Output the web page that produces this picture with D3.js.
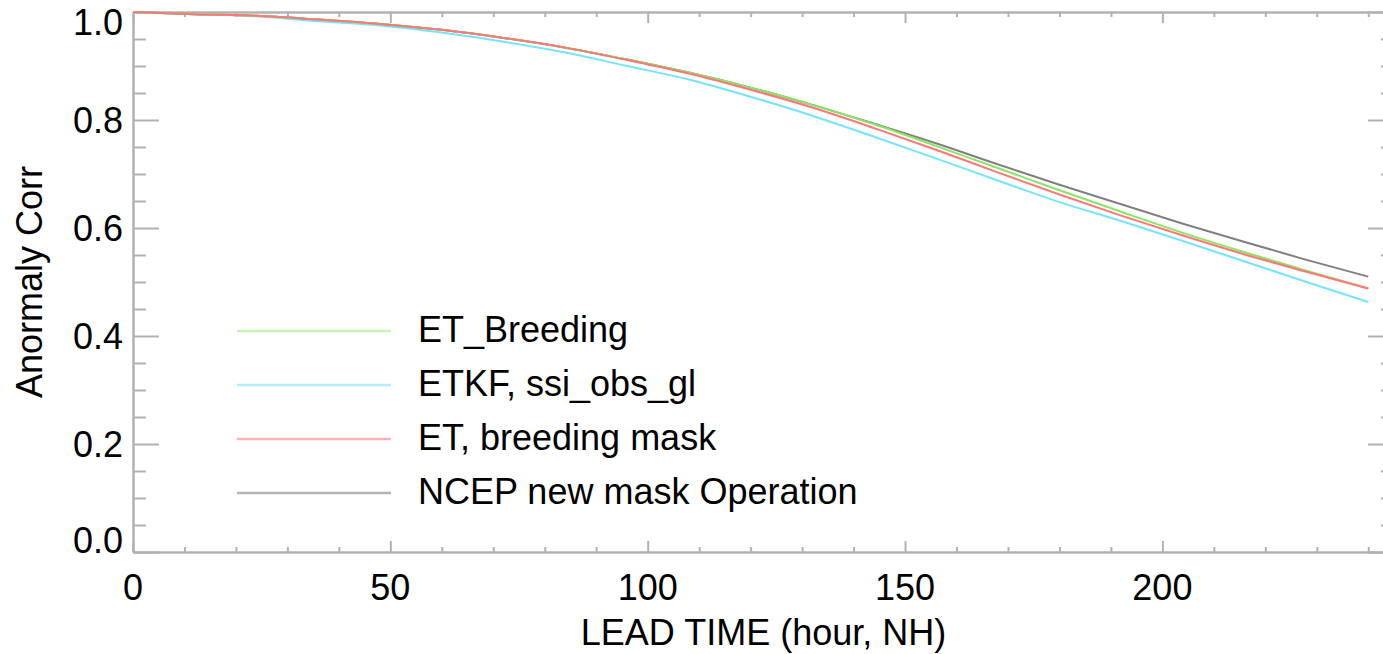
<!DOCTYPE html>
<html>
<head>
<meta charset="utf-8">
<script src="https://cdn.jsdelivr.net/npm/d3@7"></script>
<style>
  body { margin: 0; background: #fff; }
  svg { display: block; font-family: "Liberation Sans", Arial, sans-serif; }
</style>
</head>
<body>
<script>
// lead times (hours)
var leadTime = [0, 12, 24, 36, 48, 60, 72, 84, 96, 108, 120, 132, 144, 156, 168, 180, 192, 204, 216, 228, 240];

// anomaly correlation, one array per experiment
var etBreeding   = [1.0, 0.996, 0.993, 0.986, 0.978, 0.967, 0.952, 0.934, 0.912, 0.888, 0.860, 0.828, 0.792, 0.752, 0.711, 0.670, 0.630, 0.591, 0.555, 0.521, 0.488];
var etkf         = [1.0, 0.996, 0.992, 0.983, 0.975, 0.962, 0.945, 0.925, 0.900, 0.875, 0.843, 0.808, 0.769, 0.729, 0.688, 0.648, 0.613, 0.576, 0.538, 0.500, 0.463];
var etMask       = [1.0, 0.996, 0.993, 0.986, 0.978, 0.967, 0.952, 0.934, 0.911, 0.886, 0.856, 0.823, 0.785, 0.745, 0.703, 0.662, 0.623, 0.586, 0.551, 0.519, 0.488];
var ncepNewMask  = [1.0, 0.996, 0.993, 0.986, 0.978, 0.967, 0.952, 0.934, 0.912, 0.888, 0.860, 0.828, 0.793, 0.757, 0.718, 0.680, 0.644, 0.608, 0.574, 0.541, 0.510];

var seriesNames = ["ET_Breeding", "ETKF, ssi_obs_gl", "ET, breeding mask", "NCEP new mask Operation"];

var xTicks = [0, 50, 100, 150, 200];
var xMinorTicks = [10, 20, 30, 40, 60, 70, 80, 90, 110, 120, 130, 140, 160, 170, 180, 190, 210, 220, 230, 240];
var yTicks = [0.0, 0.2, 0.4, 0.6, 0.8, 1.0];
var yMinorTicks = [0.05, 0.1, 0.15, 0.25, 0.3, 0.35, 0.45, 0.5, 0.55, 0.65, 0.7, 0.75, 0.85, 0.9, 0.95];

var w = 1383, h = 654;
var plotLeft = 133, plotRight = 1394, plotTop = 12, plotBottom = 552;
var axisColor = "#b2b2b2";

var svg = d3.select("body").append("svg")
    .attr("width", w)
    .attr("height", h);

var x = d3.scaleLinear().domain([0, 245]).range([plotLeft, plotRight]);
var y = d3.scaleLinear().domain([0, 1]).range([plotBottom, plotTop]);

// axes: ticks all point inward, labels only on left and bottom
function styleAxis(g) {
  g.selectAll("path, line").attr("stroke", axisColor).attr("stroke-width", 2);
  g.selectAll("text").remove();
}

svg.append("g").attr("transform", "translate(0," + plotBottom + ")")
  .call(d3.axisBottom(x).tickValues(xTicks).tickSize(-11).tickSizeOuter(0)).call(styleAxis);
svg.append("g").attr("transform", "translate(0," + plotBottom + ")")
  .call(d3.axisBottom(x).tickValues(xMinorTicks).tickSize(-5).tickSizeOuter(0)).call(styleAxis);
svg.append("g").attr("transform", "translate(0," + plotTop + ")")
  .call(d3.axisTop(x).tickValues(xTicks).tickSize(-11).tickSizeOuter(0)).call(styleAxis);
svg.append("g").attr("transform", "translate(0," + plotTop + ")")
  .call(d3.axisTop(x).tickValues(xMinorTicks).tickSize(-5).tickSizeOuter(0)).call(styleAxis);

svg.append("g").attr("transform", "translate(" + plotLeft + ",0)")
  .call(d3.axisLeft(y).tickValues(yTicks).tickSize(-26).tickSizeOuter(0)).call(styleAxis);
svg.append("g").attr("transform", "translate(" + plotLeft + ",0)")
  .call(d3.axisLeft(y).tickValues(yMinorTicks).tickSize(-13).tickSizeOuter(0)).call(styleAxis);
svg.append("g").attr("transform", "translate(" + plotRight + ",0)")
  .call(d3.axisRight(y).tickValues(yTicks).tickSize(-26).tickSizeOuter(0)).call(styleAxis);
svg.append("g").attr("transform", "translate(" + plotRight + ",0)")
  .call(d3.axisRight(y).tickValues(yMinorTicks).tickSize(-13).tickSizeOuter(0)).call(styleAxis);

// tick labels
svg.append("g").selectAll("text")
  .data(xTicks).enter().append("text")
  .attr("x", function(d){ return x(d); })
  .attr("y", 600)
  .attr("text-anchor", "middle")
  .attr("font-size", 36)
  .text(function(d){ return d; });

svg.append("g").selectAll("text")
  .data(yTicks).enter().append("text")
  .attr("x", 123)
  .attr("y", function(d){
    // end labels are pulled inside the axis range
    var shift = d === 0 ? -12 : (d === 1 ? 10 : 0);
    return y(d) + 13 + shift;
  })
  .attr("text-anchor", "end")
  .attr("font-size", 36)
  .text(function(d){ return d.toFixed(1); });

// axis titles
svg.append("text")
  .attr("x", (plotLeft + plotRight) / 2)
  .attr("y", 645)
  .attr("text-anchor", "middle")
  .attr("font-size", 36)
  .text("LEAD TIME (hour, NH)");

svg.append("text")
  .attr("transform", "translate(42," + (plotTop + plotBottom) / 2 + ") rotate(-90)")
  .attr("text-anchor", "middle")
  .attr("font-size", 36)
  .text("Anormaly Corr");

// lines
var lineColors = ["#86e862", "#74e4ff", "#ff7676", "#808080"];
var legendColors = ["#c6f4b2", "#b2efff", "#ffb2b2", "#b4b4b4"];
var allSeries = [etBreeding, etkf, etMask, ncepNewMask];
var drawOrder = [3, 1, 0, 2];

var line = d3.line()
  .x(function(d, i){ return x(leadTime[i]); })
  .y(function(d){ return y(d); })
  .curve(d3.curveMonotoneX);

svg.append("g").selectAll("path")
  .data(drawOrder).enter().append("path")
  .attr("d", function(k){ return line(allSeries[k]); })
  .attr("fill", "none")
  .attr("stroke", function(k){ return lineColors[k]; })
  .attr("stroke-width", 2);

// legend
var legend = svg.append("g").selectAll("g")
  .data(seriesNames).enter().append("g")
  .attr("transform", function(d, i){ return "translate(0," + (331 + i * 54) + ")"; });

legend.append("line")
  .attr("x1", 237).attr("x2", 391)
  .attr("stroke", function(d, i){ return legendColors[i]; })
  .attr("stroke-width", 2.5);

legend.append("text")
  .attr("x", 418)
  .attr("y", 11)
  .attr("font-size", 36)
  .text(function(d){ return d; });
</script>
</body>
</html>
